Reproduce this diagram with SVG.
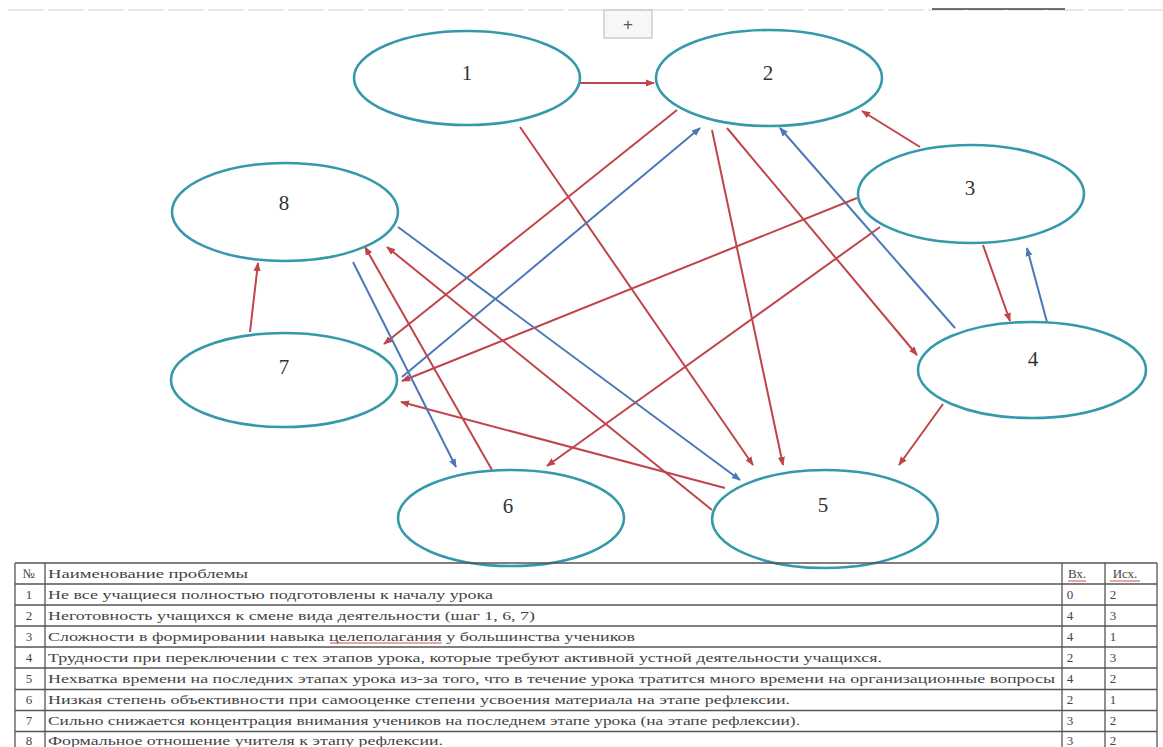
<svg xmlns="http://www.w3.org/2000/svg" width="1163" height="747" viewBox="0 0 1163 747">
<defs>
<marker id="ar" viewBox="0 0 10 10" refX="9" refY="5" markerWidth="9" markerHeight="9" markerUnits="userSpaceOnUse" orient="auto"><path d="M0,1 L10,5 L0,9 z" fill="#c0454a"/></marker>
<marker id="ab" viewBox="0 0 10 10" refX="9" refY="5" markerWidth="9" markerHeight="9" markerUnits="userSpaceOnUse" orient="auto"><path d="M0,1 L10,5 L0,9 z" fill="#4a78b8"/></marker>
</defs>
<style>
.nd{fill:#fff;stroke:#3599ab;stroke-width:2.6}
.glow{fill:none;stroke:#bdeff5;stroke-width:6}
.lb{font-family:"Liberation Serif","Times New Roman",serif;font-size:21px;fill:#333;text-anchor:middle}
.r{stroke:#c0454a;stroke-width:2;fill:none;marker-end:url(#ar)}
.b{stroke:#4a78b8;stroke-width:2;fill:none;marker-end:url(#ab)}
.tl{stroke:#555;stroke-width:1.3}
.tt{font-family:"Liberation Serif","Times New Roman",serif;font-size:13px;fill:#444}
.tc{font-family:"Liberation Serif","Times New Roman",serif;font-size:13px;fill:#444;text-anchor:middle}
</style>
<rect width="1163" height="747" fill="#fff"/>
<g id="topbar">
<line x1="8" y1="10" x2="1163" y2="10" stroke="#cfcfcf" stroke-width="1.2" stroke-dasharray="36 4"/>
<rect x="604" y="10" width="48" height="28" fill="#f7f7f7" stroke="#b8b8b8" stroke-width="1"/>
<text x="628" y="30" font-family="'Liberation Sans',Arial,sans-serif" font-size="17" fill="#555" text-anchor="middle">+</text>
<line x1="932" y1="9" x2="1065" y2="9" stroke="#444" stroke-width="1.6"/>
</g>
<g id="connectors">
<line class="r" x1="580" y1="83" x2="654" y2="83"/>
<line class="r" x1="520" y1="127" x2="753" y2="465"/>
<line class="r" x1="712" y1="130" x2="783" y2="465"/>
<line class="r" x1="727" y1="128" x2="917" y2="355"/>
<line class="b" x1="955" y1="328" x2="780" y2="128"/>
<line class="r" x1="920" y1="147" x2="862" y2="111"/>
<line class="r" x1="983" y1="245" x2="1010" y2="321"/>
<line class="b" x1="1047" y1="322" x2="1027" y2="248"/>
<line class="r" x1="943" y1="404" x2="899" y2="465"/>
<line class="r" x1="677" y1="110" x2="384" y2="344"/>
<line class="b" x1="402" y1="377" x2="700" y2="128"/>
<line class="r" x1="857" y1="198" x2="402" y2="381"/>
<line class="r" x1="880" y1="227" x2="547" y2="466"/>
<line class="r" x1="725" y1="488" x2="401" y2="402"/>
<line class="r" x1="712" y1="510" x2="387" y2="247"/>
<line class="r" x1="492" y1="470" x2="365" y2="247"/>
<line class="b" x1="353" y1="262" x2="456" y2="467"/>
<line class="b" x1="398" y1="227" x2="740" y2="480"/>
<line class="r" x1="250" y1="332" x2="258" y2="263"/>
</g>
<g id="n1"><ellipse class="nd" cx="467" cy="78" rx="113" ry="47"/><text class="lb" x="467" y="80">1</text></g>
<g id="n2"><ellipse class="nd" cx="769" cy="78" rx="113" ry="48"/><text class="lb" x="768" y="80">2</text></g>
<g id="n3"><ellipse class="nd" cx="971" cy="194" rx="113" ry="49"/><text class="lb" x="970" y="195">3</text></g>
<g id="n4"><ellipse class="nd" cx="1032" cy="370" rx="114" ry="48"/><text class="lb" x="1033" y="366">4</text></g>
<g id="n5"><ellipse class="nd" cx="825" cy="519" rx="113" ry="49"/><text class="lb" x="823" y="512">5</text></g>
<g id="n6"><ellipse class="nd" cx="511" cy="518" rx="113" ry="48"/><text class="lb" x="508" y="513">6</text></g>
<g id="n7"><ellipse class="nd" cx="284" cy="380" rx="113" ry="47"/><text class="lb" x="284" y="374">7</text></g>
<g id="n8"><ellipse class="nd" cx="285" cy="212" rx="113" ry="49"/><text class="lb" x="284" y="210">8</text></g>
<g id="table">
<line class="tl" x1="15" y1="563" x2="1157" y2="563"/>
<line class="tl" x1="15" y1="584" x2="1157" y2="584"/>
<line class="tl" x1="15" y1="605" x2="1157" y2="605"/>
<line class="tl" x1="15" y1="626" x2="1157" y2="626"/>
<line class="tl" x1="15" y1="647" x2="1157" y2="647"/>
<line class="tl" x1="15" y1="668" x2="1157" y2="668"/>
<line class="tl" x1="15" y1="689.5" x2="1157" y2="689.5"/>
<line class="tl" x1="15" y1="710.5" x2="1157" y2="710.5"/>
<line class="tl" x1="15" y1="731.5" x2="1157" y2="731.5"/>
<line class="tl" x1="15" y1="563" x2="15" y2="747"/>
<line class="tl" x1="45" y1="563" x2="45" y2="747"/>
<line class="tl" x1="1062" y1="563" x2="1062" y2="747"/>
<line class="tl" x1="1105" y1="563" x2="1105" y2="747"/>
<line class="tl" x1="1157" y1="563" x2="1157" y2="747"/>
<text class="tc" x="29" y="578">№</text>
<text class="tt" x="48" y="578" textLength="200" lengthAdjust="spacingAndGlyphs">Наименование проблемы</text>
<text class="tc" x="1077" y="578">Вх.</text>
<text class="tc" x="1125" y="578">Исх.</text>
<line x1="1068" y1="581" x2="1086" y2="581" stroke="#d05050" stroke-width="1"/>
<line x1="1110" y1="581" x2="1140" y2="581" stroke="#d05050" stroke-width="1"/>
<text class="tc" x="29" y="599">1</text>
<text class="tt" x="48" y="599" textLength="445" lengthAdjust="spacingAndGlyphs">Не все учащиеся полностью подготовлены к началу урока</text>
<text class="tc" x="1070" y="599">0</text><text class="tc" x="1113" y="599">2</text>
<text class="tc" x="29" y="620">2</text>
<text class="tt" x="48" y="620" textLength="487" lengthAdjust="spacingAndGlyphs">Неготовность учащихся к смене вида деятельности (шаг 1, 6, 7)</text>
<text class="tc" x="1070" y="620">4</text><text class="tc" x="1113" y="620">3</text>
<text class="tc" x="29" y="641">3</text>
<text class="tt" x="48" y="641" textLength="587" lengthAdjust="spacingAndGlyphs">Сложности в формировании навыка целеполагания у большинства учеников</text>
<line x1="330" y1="643" x2="442" y2="643" stroke="#d05050" stroke-width="1"/>
<text class="tc" x="1070" y="641">4</text><text class="tc" x="1113" y="641">1</text>
<text class="tc" x="29" y="662">4</text>
<text class="tt" x="48" y="662" textLength="834" lengthAdjust="spacingAndGlyphs">Трудности при переключении с тех этапов урока, которые требуют активной устной деятельности учащихся.</text>
<text class="tc" x="1070" y="662">2</text><text class="tc" x="1113" y="662">3</text>
<text class="tc" x="29" y="683">5</text>
<text class="tt" x="48" y="683" textLength="1007" lengthAdjust="spacingAndGlyphs">Нехватка времени на последних этапах урока из-за того, что в течение урока тратится много времени на организационные вопросы</text>
<text class="tc" x="1070" y="683">4</text><text class="tc" x="1113" y="683">2</text>
<text class="tc" x="29" y="704">6</text>
<text class="tt" x="48" y="704" textLength="742" lengthAdjust="spacingAndGlyphs">Низкая степень объективности при самооценке степени усвоения материала на этапе рефлексии.</text>
<text class="tc" x="1070" y="704">2</text><text class="tc" x="1113" y="704">1</text>
<text class="tc" x="29" y="725">7</text>
<text class="tt" x="48" y="725" textLength="752" lengthAdjust="spacingAndGlyphs">Сильно снижается концентрация внимания учеников на последнем этапе урока (на этапе рефлексии).</text>
<text class="tc" x="1070" y="725">3</text><text class="tc" x="1113" y="725">2</text>
<text class="tc" x="29" y="745">8</text>
<text class="tt" x="48" y="745" textLength="395" lengthAdjust="spacingAndGlyphs">Формальное отношение учителя к этапу рефлексии.</text>
<text class="tc" x="1070" y="745">3</text><text class="tc" x="1113" y="745">2</text>
</g>
</svg>
